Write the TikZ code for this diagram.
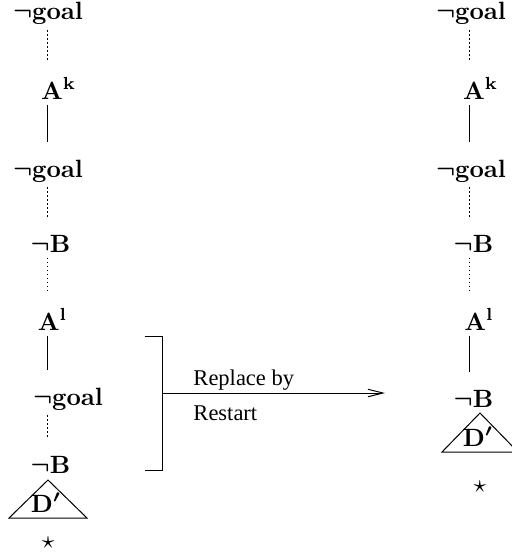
\documentclass[tikz,border=0pt]{standalone}
\usepackage{amsmath,amssymb}
\usepackage{fontspec}
\usepackage{tikz}
\usetikzlibrary{arrows.meta}
\newfontfamily\txtfont{Liberation Serif}
\tikzset{lbl/.style={anchor=base,inner sep=0pt,font=\boldmath},
  txt/.style={anchor=base west,inner sep=0pt,font=\txtfont\fontsize{9}{11}\selectfont},
  dotl/.style={dash pattern=on 0.7pt off 0.9pt,thin,shorten <=2pt,shorten >=6.8pt},
  soll/.style={thin,shorten <=2pt,shorten >=6.8pt},
  tri/.style={thin}}

\begin{document}
\begin{tikzpicture}[x=0.4pt,y=-0.4pt]
\useasboundingbox (0,0) rectangle (512,556);
\coordinate (lx) at (48,0); \coordinate (rx) at (470,0);
\node[lbl] (lg1) at (48,19.5) {$\neg\mathbf{goal}$};
\node[lbl] (lAk) at (58.5,99) {$\mathbf{A}^{\mathbf{k}}$};
\node[lbl] (lg2) at (48,177) {$\neg\mathbf{goal}$};
\node[lbl] (lB1) at (50.5,252) {$\neg\mathbf{B}$};
\node[lbl] (lAl) at (52.5,330) {$\mathbf{A}^{\mathbf{l}}$};
\node[lbl] (lg3) at (68,405) {$\neg\mathbf{goal}$};
\node[lbl] (lB2) at (50.5,473) {$\neg\mathbf{B}$};
\draw[dotl] (lg1.south -| lx) -- (lAk.north -| lx);
\draw[soll] (lAk.south -| lx) -- (lg2.north -| lx);
\draw[dotl] (lg2.south -| lx) -- (lB1.north -| lx);
\draw[dotl] (lB1.south -| lx) -- (lAl.north -| lx);
\draw[soll] (lAl.south -| lx) -- (lg3.north -| lx);
\draw[dotl] (lg3.south -| lx) -- (lB2.north -| lx);
\draw[tri] (48,480) -- (9,518) -- (87,518) -- cycle;
\node[lbl] (lD) at (46,512) {$\mathbf{D}'$};
\node (lstar) at (48,543) {$\star$};
\node[lbl] (rg1) at (471,19.5) {$\neg\mathbf{goal}$};
\node[lbl] (rAk) at (480.5,99) {$\mathbf{A}^{\mathbf{k}}$};
\node[lbl] (rg2) at (471,177) {$\neg\mathbf{goal}$};
\node[lbl] (rB1) at (473.5,252) {$\neg\mathbf{B}$};
\node[lbl] (rAl) at (479,330) {$\mathbf{A}^{\mathbf{l}}$};
\node[lbl] (rB2) at (473.5,407) {$\neg\mathbf{B}$};
\draw[dotl] (rg1.south -| rx) -- (rAk.north -| rx);
\draw[soll] (rAk.south -| rx) -- (rg2.north -| rx);
\draw[dotl] (rg2.south -| rx) -- (rB1.north -| rx);
\draw[dotl] (rB1.south -| rx) -- (rAl.north -| rx);
\draw[soll] (rAl.south -| rx) -- (rB2.north -| rx);
\draw[tri] (480,413) -- (442,452) -- (518,452) -- cycle;
\node[lbl] (rD) at (478,446) {$\mathbf{D}'$};
\node (rstar) at (480,487) {$\star$};
\draw (145,336) -- (163,336) -- (163,470) -- (145,470);
\coordinate (brk) at (163,393); \coordinate (tip) at (385,393);
\draw[-{Straight Barb[length=6pt,width=3pt]}] (brk) -- (tip);
\node[txt] (rep) at (193,385) {Replace by};
\node[txt] (rst) at (193,420) {Restart};
\end{tikzpicture}
\end{document}
